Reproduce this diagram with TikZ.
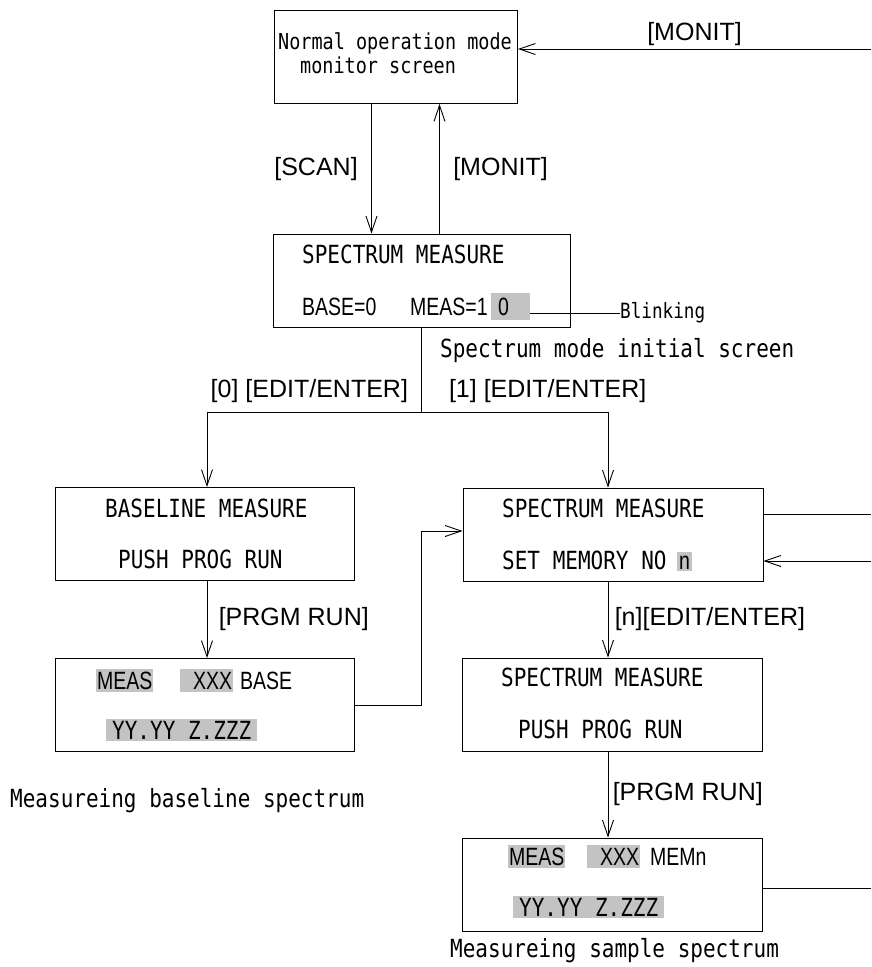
\documentclass[tikz,border=0pt]{standalone}
\usepackage{fontspec}
\setmainfont{Liberation Sans}
\newfontfamily\gothic[FakeStretch=0.84]{DejaVu Sans Mono}
\newfontfamily\narrow[FakeStretch=0.78]{Liberation Sans}
\usetikzlibrary{arrows.meta,positioning}
\definecolor{lcdgray}{RGB}{195,195,195}
\newcommand{\fsz}[1]{\fontsize{#1}{#1}\selectfont}
\tikzstyle{screen}=[draw, line width=1pt, minimum width=299pt, minimum height=93pt, inner sep=0pt]
\tikzstyle{key}=[font=\fsz{25}]
\tikzstyle{lcd}=[anchor=base west, inner sep=0pt, font=\gothic\fsz{25}]
\tikzstyle{lcdn}=[anchor=base west, inner sep=0pt, font=\narrow\fsz{25}]
\tikzstyle{hl}=[fill=lcdgray, inner xsep=1pt, inner ysep=3pt]
\tikzstyle{post}=[->, line width=0.9pt]

\begin{document}
\begin{tikzpicture}[
    x=1pt, y=-1pt,
    >={Straight Barb[length=16pt,width=11pt]}
    ]
    \useasboundingbox (0,0) rectangle (871,967);

    % screens
    \node[screen, minimum width=243pt](mon) at (396,57) {};
    \node[screen, minimum width=297pt](init) at (421.5,280.5) {};
    \node[screen](base) at (204.5,534) {};
    \node[screen](bres) [below=77pt of base] {};
    \node[screen, minimum width=300pt](spec) at (613,534.5) {};
    \node[screen, minimum width=300pt](push) [below=76pt of spec, xshift=-1pt] {};
    \node[screen, minimum width=300pt](sres) [below=86pt of push] {};

    % screen texts
    \node[lcd, font=\gothic\fsz{22}](monA) at (278,49) {Normal operation mode};
    \node[lcd, font=\gothic\fsz{22}](monB) at (300,73) {monitor screen};

    \node[lcd](initA) at (302,263) {SPECTRUM MEASURE};
    \node[lcdn](initB) at (302,315) {BASE=0};
    \node[lcdn](initC) at (410,315) {MEAS=1};
    \node[lcdn, hl, inner xsep=7pt, text height=19pt, text depth=2pt](blink0) at (491,315) {0\kern14pt};
    \node[anchor=west, inner sep=0pt, font=\gothic\fsz{21}](blinking) at (620,313) {Blinking};
    \node[lcd](initcap) at (440,357) {Spectrum mode initial screen};

    \node[lcd](baseA) at (105,517) {BASELINE MEASURE};
    \node[lcd](baseB) at (118,568) {PUSH PROG RUN};

    \node[lcdn, hl](bresA) at (96,689) {MEAS};
    \node[lcdn, hl](bresB) at (180,689) {\kern12pt XXX};
    \node[lcdn](bresC) at (240,689) {BASE};
    \node[lcd, hl, inner xsep=6pt, inner ysep=2pt](bresD) at (106,739) {YY.YY Z.ZZZ};
    \node[lcd](brescap) at (10,807) {Measureing baseline spectrum};

    \node[lcd](specA) at (502,517) {SPECTRUM MEASURE};
    \node[lcd](specB) at (502,569) {SET MEMORY NO};
    \node[lcdn, hl, inner xsep=2pt, inner ysep=1pt, text height=16pt, text depth=1pt](specn) at (677,569) {n};

    \node[lcd](pushA) at (501,686) {SPECTRUM MEASURE};
    \node[lcd](pushB) at (518,738) {PUSH PROG RUN};

    \node[lcdn, hl](sresA) at (508,865) {MEAS};
    \node[lcdn, hl](sresB) at (587,865) {\kern12pt XXX};
    \node[lcdn](sresC) at (650,865) {MEMn};
    \node[lcd, hl, inner xsep=6pt, inner ysep=2pt](sresD) at (513,916) {YY.YY Z.ZZZ};
    \node[lcd](srescap) at (450,957) {Measureing sample spectrum};

    % free ends at the right margin
    \coordinate (toM) at (871,49);
    \coordinate (toA) at (871,514);
    \coordinate (toB) at (871,561);
    \coordinate (fork) at (init.south |- 0,412);

    % key presses
    \draw[post] (toM) -- (toM -| mon.east) node[key, midway, above] {[MONIT]};

    \path[post, every node/.append style=key]
    ([xshift=-24.5pt]mon.south) edge node[left=10pt] {[SCAN]} ([xshift=-24.5pt]mon.south |- init.north)
    ([xshift=43.5pt]mon.south |- init.north) edge node[right=10pt] {[MONIT]} ([xshift=43.5pt]mon.south)
    ([xshift=2.5pt]base.south) edge node[right=8pt] {[PRGM RUN]} ([xshift=2.5pt]base.south |- bres.north)
    ([xshift=-5pt]spec.south) edge node[right=3pt] {[n][EDIT/ENTER]} ([xshift=-5pt]spec.south |- push.north)
    ([xshift=-4pt]push.south) edge node[right=1pt] {[PRGM RUN]} ([xshift=-4pt]push.south |- sres.north)
    ;

    \draw[line width=0.9pt] (init.south) -- (fork);
    \draw[post] (fork) -| ([xshift=2.5pt]base.north);
    \draw[post] (fork) -| ([xshift=-5pt]spec.north);
    \node[key, above left=6pt and 10pt of fork](key0) {[0] [EDIT/ENTER]};
    \node[key, above right=6pt and 24pt of fork](key1) {[1] [EDIT/ENTER]};

    \draw[post] (bres.east) -- (bres.east -| fork) |- ([yshift=3.5pt]spec.west);
    \draw[line width=0.9pt] (toA -| spec.east) -- (toA);
    \draw[post] (toB) -- (toB -| spec.east);
    \draw[line width=0.9pt] ([yshift=-3.5pt]sres.east) -- ([yshift=-3.5pt]sres.east -| toA);
    \draw[line width=0.9pt] (blink0.east |- blinking.west) -- (blinking.west);
\end{tikzpicture}
\end{document}
